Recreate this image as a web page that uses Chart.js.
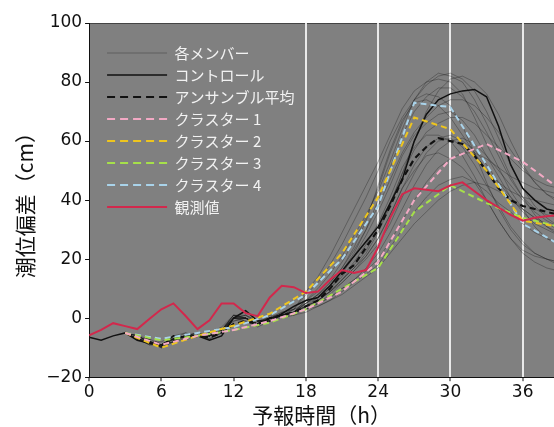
<!DOCTYPE html>
<html>
<head>
<meta charset="utf-8">
<script src="https://cdn.jsdelivr.net/npm/chart.js@4"></script>
<style>
  html, body { margin: 0; padding: 0; background: #fff; }
  #wrap { width: 554px; height: 427px; }
</style>
</head>
<body>
<div id="wrap"><canvas id="c"></canvas></div>
<script>
// hours since forecast start
const hours = [0,1,2,3,4,5,6,7,8,9,10,11,12,13,14,15,16,17,18,19,20,21,22,23,24,25,26,27,28,29,30,31,32,33,34,35,36,37,38,39];
const memberHours = [3,4,5,6,7,8,9,10,11,12,13,14,15,16,17,18,19,20,21,22,23,24,25,26,27,28,29,30,31,32,33,34,35,36,37,38,39];
const clusterHours = [3,6,9,12,15,18,21,24,27,30,33,36,39];

const observed = [-5.8,-4,-1.7,-2.7,-3.7,-0.3,3,5,0.8,-3.7,-0.7,5,5,1.7,0.7,7,11,10.5,8.5,9,13,16.3,15.3,16.3,24,34,42,44,43.5,43,45,46,43,40,37.5,35,33,34,34.5,35];
const control = [-6.5,-7.5,-6,-5,-7.5,-8.5,-9.5,-6,-6.5,-6,-7.5,-6,0,2.5,-1,-1,1.5,4,6,7,11,16,21,26,31,39,47,60,69,74,76,77,77.5,75,65,52,44,40,37,36];
const ensembleMean = [-5,-6,-7.5,-9,-7.5,-7,-6,-6.5,-5,-2,-1,-2,0,1,2,4,6,10,15,18,24,30,38,47,54,58,61,60,59,55,50,44,40,38,37,36,35];

const cluster1 = [-5,-9,-6,-4,-1,3,9,19,40,54,59,53,44];
const cluster2 = [-5,-10,-6,-2.5,1.5,9,22,41,68,64,50,33,31];
const cluster3 = [-5,-7.5,-6,-4,-1.5,3,10,17,36,45,39,34,31];
const cluster4 = [-5,-7,-5,-3,1,8,20,38,73,71.5,52,32,25];

const members = [
  [-5,-6,-8,-10,-7,-6,-5,-6,-4,1,0,-2,0,1,3, 9,14,21,29,37,45,53,62,71,77,80,81,80,76,68,59,51,43,37,31,27,25],
  [-5,-7,-9,-9,-8,-6,-6,-7,-5,0,-1,-3,-1,1,2, 6,10,15,21,28,35,43,53,64,74,80,83,82,80,74,66,57,48,41,35,31,28],
  [-5,-7,-8,-8,-6,-5,-6,-5,-3,1,1,-1,0,2,3, 4,6,9,13,17,22,29,38,49,60,70,77,81,82,80,76,69,60,52,46,42,40],
  [-5,-6,-7,-9,-7,-7,-6,-6,-4,0,0,-2,1,1,2, 4,7,10,15,21,28,36,45,55,62,66,69,70,67,62,55,48,41,36,32,30,28],
  [-5,-7,-8,-10,-8,-6,-5,-6,-4,-1,0,-2,0,0,1, 3,5,8,12,16,21,27,35,44,52,58,61,62,60,57,52,46,41,37,34,31,29],
  [-5,-6,-8,-9,-7,-6,-6,-6,-5,0,1,-2,-1,1,2, 3,5,7,10,13,16,20,26,33,40,46,51,54,56,56,54,51,48,46,44,43,42],
  [-5,-7,-9,-9,-7,-6,-6,-5,-4,0,0,-1,0,1,2, 3,4,6,9,12,15,18,24,30,36,41,45,47,48,46,43,39,36,32,29,27,25],
  [-5,-7,-8,-9,-7,-5,-6,-6,-4,1,0,-2,0,1,2, 5,7,10,14,19,25,32,41,51,58,62,62,60,55,48,40,33,27,22,19,17,16],
  [-5,-6,-8,-9,-8,-6,-6,-6,-4,0,0,-2,0,2,3, 8,12,18,25,33,41,50,60,68,74,76,75,72,65,56,46,37,30,25,22,20,19],
  [-5,-7,-8,-10,-7,-6,-5,-6,-4,0,-1,-2,0,1,2, 4,6,9,13,17,21,27,35,44,50,55,56,54,51,46,40,33,27,23,21,20,19],
  [-5,-7,-8,-9,-7,-6,-6,-6,-4,1,0,-2,0,1,2, 5,8,11,16,22,30,40,51,62,70,75,78,78,75,70,63,55,47,41,37,35,34],
  [-5,-6,-8,-9,-7,-6,-6,-5,-4,0,0,-2,0,1,1, 2,4,6,8,11,14,17,22,27,32,36,40,43,45,46,45,43,40,37,34,32,30],
  [-5,-7,-8,-9,-7,-6,-6,-6,-4,0,0,-2,0,1,2, 5,8,12,17,24,33,45,57,67,73,74,72,68,62,56,50,46,43,41,40,39,38],
  [-5,-7,-8,-9,-8,-6,-6,-6,-4,0,0,-2,-1,1,2, 4,6,9,13,18,23,30,39,49,57,63,66,68,68,66,62,58,54,50,47,45,44],
  [-5,-6,-8,-10,-8,-7,-6,-7,-5,0,1,-1,0,1,2, 6,9,13,19,26,34,44,56,66,74,79,82,83,81,77,70,61,52,44,38,34,31],
  [-5,-7,-9,-9,-7,-6,-5,-6,-4,-1,0,-2,0,1,2, 3,5,7,10,13,17,22,29,37,45,52,57,60,61,59,55,50,45,40,36,33,31],
  [-5,-6,-8,-9,-7,-6,-6,-6,-4,0,0,-2,0,1,2, 4,6,9,12,16,20,25,32,41,49,56,60,61,58,52,45,38,31,26,22,20,18],
  [-5,-7,-8,-9,-7,-6,-6,-5,-4,1,0,-2,0,1,3, 5,8,12,17,23,30,38,47,56,63,68,72,74,74,72,68,63,57,51,46,42,39]
];

const yTicks = [-20, 0, 20, 40, 60, 80, 100];
const xTicks = [0, 6, 12, 18, 24, 30, 36];

function pts(xs, ys) {
  return ys.map((v, i) => ({ x: xs[i], y: v }));
}

const datasets = [];
members.forEach((m, i) => {
  datasets.push({
    label: i === 0 ? '各メンバー' : '',
    data: pts(memberHours, m),
    borderColor: 'rgba(25,25,25,0.33)',
    borderWidth: 1,
    order: 10
  });
});
datasets.push({ label: 'コントロール', data: pts(hours, control), borderColor: '#111', borderWidth: 1.5, order: 5 });
datasets.push({ label: 'アンサンブル平均', data: pts(memberHours, ensembleMean), borderColor: '#111', borderWidth: 2.2, borderDash: [6, 4], order: 4 });
datasets.push({ label: 'クラスター 1', data: pts(clusterHours, cluster1), borderColor: '#f2a9c4', borderWidth: 2, borderDash: [6, 4], order: 3 });
datasets.push({ label: 'クラスター 2', data: pts(clusterHours, cluster2), borderColor: '#eec51e', borderWidth: 2, borderDash: [6, 4], order: 3 });
datasets.push({ label: 'クラスター 3', data: pts(clusterHours, cluster3), borderColor: '#a6e04a', borderWidth: 2, borderDash: [6, 4], order: 3 });
datasets.push({ label: 'クラスター 4', data: pts(clusterHours, cluster4), borderColor: '#a9d3ea', borderWidth: 2, borderDash: [6, 4], order: 3 });
datasets.push({ label: '観測値', data: pts(hours, observed), borderColor: '#d2284c', borderWidth: 2, order: 1 });

// grey plot background, top frame line, legend nudged into place
const plotBg = {
  id: 'plotBg',
  beforeDraw(chart) {
    const { ctx, chartArea: a } = chart;
    ctx.save();
    ctx.fillStyle = '#808080';
    ctx.fillRect(a.left, a.top, a.right - a.left, a.bottom - a.top);
    ctx.strokeStyle = '#444';
    ctx.lineWidth = 1;
    ctx.beginPath();
    ctx.moveTo(a.left, a.top + 0.5);
    ctx.lineTo(a.right, a.top + 0.5);
    ctx.stroke();
    ctx.restore();
  },
  afterLayout(chart) {
    const lg = chart.legend;
    lg.left = chart.chartArea.left + 11;
    lg.top = chart.chartArea.top + 15.5;
    lg.bottom = lg.top + lg.height;
  }
};

const tickFont = { family: 'DejaVu Sans', size: 17, lineHeight: 1.1 };
const jpFont = 'Noto Sans CJK JP';

new Chart(document.getElementById('c'), {
  type: 'line',
  data: { datasets },
  plugins: [plotBg],
  options: {
    responsive: true,
    maintainAspectRatio: false,
    animation: false,
    layout: { padding: { left: 6, top: 23, right: 0, bottom: 0 } },
    elements: { point: { radius: 0 }, line: { tension: 0 } },
    plugins: {
      tooltip: { enabled: false },
      legend: {
        position: 'chartArea',
        align: 'start',
        labels: {
          usePointStyle: true,
          pointStyle: 'line',
          pointStyleWidth: 60,
          padding: 7,
          color: '#f2f2f2',
          font: { family: jpFont, size: 15 },
          filter: (item) => item.text !== '',
          sort: (a, b) => a.datasetIndex - b.datasetIndex,
          generateLabels: (chart) => Chart.defaults.plugins.legend.labels.generateLabels(chart).map(l => {
            const ds = chart.data.datasets[l.datasetIndex];
            l.lineDash = ds.borderDash ? [8, 5] : [];
            l.lineWidth = ds.borderWidth;
            l.strokeStyle = ds.borderColor;
            return l;
          })
        }
      }
    },
    scales: {
      x: {
        type: 'linear',
        min: 0,
        max: 38.6,
        afterBuildTicks: (axis) => {
          axis.ticks = xTicks.map(v => ({ value: v }));
        },
        ticks: { color: '#111', font: tickFont, padding: 2, maxRotation: 0 },
        grid: {
          color: (c) => (c.tick && c.tick.value >= 18 ? 'rgba(238,238,238,0.95)' : 'rgba(0,0,0,0)'),
          lineWidth: (c) => (c.tick && c.tick.value >= 18 ? 2 : 0),
          tickColor: '#111',
          tickLength: 4,
          tickWidth: 1
        },
        border: { color: '#111', width: 1 },
        title: { display: true, text: '予報時間（h）', color: '#111', font: { family: jpFont, size: 21, lineHeight: 1.1 }, padding: 0 }
      },
      y: {
        min: -20,
        max: 100,
        afterBuildTicks: (axis) => {
          axis.ticks = yTicks.map(v => ({ value: v }));
        },
        ticks: {
          color: '#111',
          font: tickFont,
          padding: 3,
          callback: (v) => (v < 0 ? '\u2212' + Math.abs(v) : String(v))
        },
        grid: { drawOnChartArea: false, tickColor: '#111', tickLength: 4, tickWidth: 1 },
        border: { color: '#111', width: 1 },
        title: { display: true, text: '潮位偏差（cm）', color: '#111', font: { family: jpFont, size: 21, lineHeight: 1.2 }, padding: { top: 6, bottom: 6 } }
      }
    }
  }
});
</script>
</body>
</html>
